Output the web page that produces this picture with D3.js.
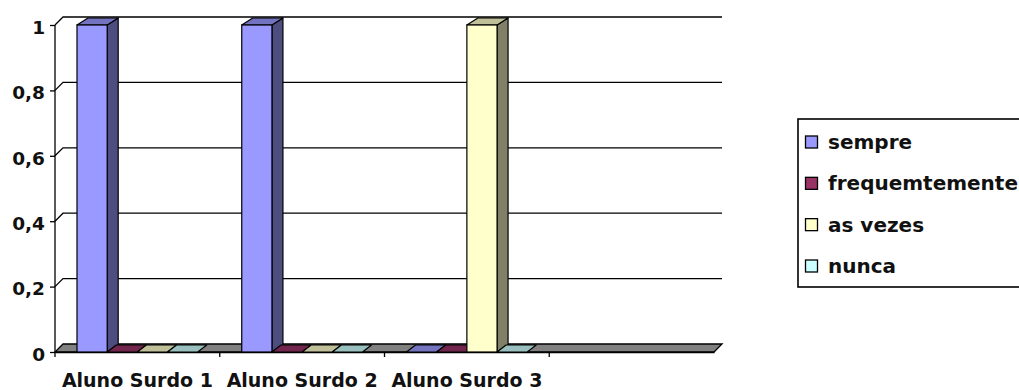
<!DOCTYPE html>
<html>
<head>
<meta charset="utf-8">
<script src="https://cdn.jsdelivr.net/npm/d3@7"></script>
<style>
  html, body { margin: 0; padding: 0; background: #fff; }
  svg { display: block; }
  text { font-family: "DejaVu Sans", sans-serif; font-weight: bold; fill: #111; }
</style>
</head>
<body>
<svg id="chart" width="1019" height="390"></svg>
<script>
// ---- data ----
const categories = ["Aluno Surdo 1", "Aluno Surdo 2", "Aluno Surdo 3", ""];
const seriesNames = ["sempre", "frequemtemente", "as vezes", "nunca"];
const sempre = [1, 1, 0, null];
const frequemtemente = [0, 0, 0, null];
const asVezes = [0, 0, 1, null];
const nunca = [0, 0, 0, null];
const yTicks = [0, 0.2, 0.4, 0.6, 0.8, 1];
const seriesColors = ["#9999FF", "#993366", "#FFFFCC", "#CCFFFF"];

const seriesValues = [sempre, frequemtemente, asVezes, nunca];

// ---- layout ----
const svg = d3.select("#chart");
const front = { left: 55, right: 714, top: 25, bottom: 352 };
const wallDX = 8, wallDY = 8;     // depth of back wall / floor
const barDX = 11, barDY = 7;      // depth of columns
const flatDX = 9, flatDY = 7;     // depth of zero-height columns

const x0 = d3.scaleBand().domain(categories).range([front.left, front.right]).paddingInner(0).paddingOuter(0);
const x1 = d3.scaleBand().domain(seriesNames).range([22, x0.bandwidth() - 22]).padding(0);
const y = d3.scaleLinear().domain([0, 1]).range([front.bottom, front.top]);

const shade = (c, k) => { const r = d3.rgb(c); return d3.rgb(r.r * k, r.g * k, r.b * k).formatHex(); };
const fmt = v => d3.format(".1~f")(v).replace(".", ",");

// back-wall gridlines + side-wall diagonals
const grid = svg.append("g");
yTicks.filter(t => t > 0).forEach(t => {
  const yy = y(t);
  grid.append("path")
    .attr("d", `M${front.left},${yy}L${front.left + wallDX},${yy - wallDY}L${front.right + wallDX},${yy - wallDY}`)
    .attr("fill", "none").attr("stroke", "#000").attr("stroke-width", 1.3);
});

// floor
svg.append("path")
  .attr("d", `M${front.left},${front.bottom}L${front.right},${front.bottom}L${front.right + wallDX},${front.bottom - wallDY}L${front.left + wallDX},${front.bottom - wallDY}Z`)
  .attr("fill", "#808080").attr("stroke", "#000").attr("stroke-width", 1.3);

// y axis (front)
const yAxis = d3.axisLeft(y).tickValues(yTicks).tickFormat(fmt).tickSize(5).tickPadding(5);
const yG = svg.append("g").attr("transform", `translate(${front.left},0)`).call(yAxis);
yG.select(".domain").attr("stroke", "#000").attr("stroke-width", 1.3).attr("d", `M0,${front.top}V${front.bottom}`);
yG.selectAll(".tick line").attr("stroke", "#000").attr("stroke-width", 1.3);
yG.selectAll(".tick text").attr("font-size", "18.5px").attr("font-family", "DejaVu Sans").attr("font-weight", "bold").attr("fill", "#111").attr("dy", "0.45em");

// x axis (front)
const xAxis = d3.axisBottom(x0).tickSize(0).tickPadding(18);
const xG = svg.append("g").attr("transform", `translate(0,${front.bottom})`).call(xAxis);
xG.select(".domain").attr("stroke", "#000").attr("stroke-width", 1.3);
xG.selectAll(".tick text").attr("font-size", "19px").attr("font-family", "DejaVu Sans").attr("font-weight", "bold").attr("fill", "#111").attr("dy", "0.88em");
// category separators
categories.forEach((c, i) => {
  if (i === 0) return;
  const xx = x0(c);
  xG.append("line").attr("x1", xx).attr("x2", xx).attr("y1", 0).attr("y2", 5).attr("stroke", "#000").attr("stroke-width", 1.3);
});
xG.append("line").attr("x1", front.left).attr("x2", front.left).attr("y1", 0).attr("y2", 5).attr("stroke", "#000").attr("stroke-width", 1.3);

// columns
const bars = svg.append("g");
categories.forEach((c, ci) => {
  seriesNames.forEach((s, si) => {
    const v = seriesValues[si][ci];
    if (v === null || v === undefined) return;
    const col = seriesColors[si];
    const xl = x0(c) + x1(s);
    const xr = xl + x1.bandwidth();
    const yb = y(0);
    const yt = y(v);
    const g = bars.append("g");
    if (v === 0) {
      g.append("path")
        .attr("d", `M${xl},${yb}L${xr},${yb}L${xr + flatDX},${yb - flatDY}L${xl + flatDX},${yb - flatDY}Z`)
        .attr("fill", shade(col, 0.75)).attr("stroke", "#000").attr("stroke-width", 1.2).attr("stroke-linejoin", "round");
    } else {
      // side
      g.append("path")
        .attr("d", `M${xr},${yt}L${xr + barDX},${yt - barDY}L${xr + barDX},${yb - barDY}L${xr},${yb}Z`)
        .attr("fill", shade(col, 0.5)).attr("stroke", "#000").attr("stroke-width", 1.2).attr("stroke-linejoin", "round");
      // top
      g.append("path")
        .attr("d", `M${xl},${yt}L${xr},${yt}L${xr + barDX},${yt - barDY}L${xl + barDX},${yt - barDY}Z`)
        .attr("fill", shade(col, 0.75)).attr("stroke", "#000").attr("stroke-width", 1.2).attr("stroke-linejoin", "round");
      // front
      g.append("rect")
        .attr("x", xl).attr("y", yt).attr("width", xr - xl).attr("height", yb - yt)
        .attr("fill", col).attr("stroke", "#000").attr("stroke-width", 1.2);
    }
  });
});

// legend
const legend = svg.append("g");
legend.append("rect").attr("x", 798).attr("y", 119).attr("width", 260).attr("height", 168)
  .attr("fill", "#fff").attr("stroke", "#000").attr("stroke-width", 1.6);
const legendY = d3.scalePoint().domain(seriesNames).range([142, 266]);
seriesNames.forEach((s, i) => {
  const cy = legendY(s);
  legend.append("rect").attr("x", 805.5).attr("y", cy - 6).attr("width", 12).attr("height", 12)
    .attr("fill", seriesColors[i]).attr("stroke", "#000").attr("stroke-width", 1.3);
  legend.append("text").attr("x", 828).attr("y", cy).attr("dy", "0.35em")
    .attr("font-size", "20px").text(s);
});
</script>
</body>
</html>
